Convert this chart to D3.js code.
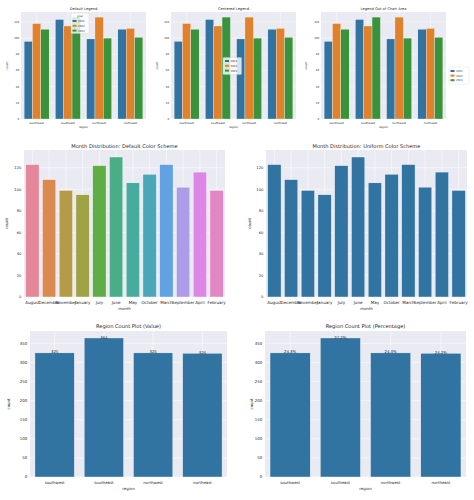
<!DOCTYPE html>
<html><head><meta charset="utf-8">
<script src="https://cdn.jsdelivr.net/npm/d3@7"></script>
<style>body{margin:0;background:#fff}svg{display:block}text{font-family:"DejaVu Sans",sans-serif;fill:#262626}</style>
</head><body>
<script>
// ---- data ----
const regions = ["southwest", "southeast", "northwest", "northeast"];
const years = ["2021", "2022", "2023"];
const counts2021 = [96, 123, 99, 111];
const counts2022 = [118, 115, 126, 112];
const counts2023 = [111, 126, 100, 101];
const months = ["August", "December", "November", "January", "July", "June", "May", "October", "March", "September", "April", "February"];
const monthCounts = [123, 109, 99, 95, 122, 130, 106, 114, 123, 102, 116, 99];
const regionCounts = [325, 364, 325, 324];
const regionPercentLabels = ["24.3%", "27.2%", "24.3%", "24.2%"];
const yearTicks = [0, 20, 40, 60, 80, 100, 120];
const monthTicks = [0, 20, 40, 60, 80, 100, 120];
const regionTicks = [0, 50, 100, 150, 200, 250, 300, 350];
const yearColors = ["#3274a1", "#e1812c", "#3a923a"];
const monthColors = ["#e5879a", "#da8a4e", "#b59b45", "#9ea345", "#5fae45", "#49ad88", "#48aba0", "#49a8b8", "#62a1e2", "#ad9ce8", "#dc87e6", "#e287c3"];
const uniformColor = "#3274a1";

const svg = d3.select("body").append("svg").attr("width", 474).attr("height", 500);

function panel(o) {
  const g = svg.append("g");
  const x = d3.scaleBand().domain(o.cats).range([o.x0, o.x1]).paddingInner(0.2).paddingOuter(0.1);
  const y = d3.scaleLinear().domain([0, o.ymax]).range([o.y1, o.y0]);
  g.append("rect").attr("x", o.x0).attr("y", o.y0).attr("width", o.x1 - o.x0).attr("height", o.y1 - o.y0).attr("fill", "#eaeaf2");
  g.selectAll(".hg").data(o.ticks).enter().append("line")
    .attr("x1", o.x0).attr("x2", o.x1).attr("y1", d => y(d)).attr("y2", d => y(d))
    .attr("stroke", "#fff").attr("stroke-width", o.gw);
  g.selectAll(".vg").data(o.cats).enter().append("line")
    .attr("x1", d => x(d) + x.bandwidth() / 2).attr("x2", d => x(d) + x.bandwidth() / 2)
    .attr("y1", o.y0).attr("y2", o.y1).attr("stroke", "#fff").attr("stroke-width", o.gw);
  if (o.series) {
    const xs = d3.scaleBand().domain(o.series.map((s, i) => i)).range([0, x.bandwidth()]);
    o.series.forEach((s, si) => {
      g.selectAll(".b" + si).data(o.cats).enter().append("rect")
        .attr("x", d => x(d) + xs(si)).attr("width", xs.bandwidth())
        .attr("y", (d, i) => y(s.values[i])).attr("height", (d, i) => y(0) - y(s.values[i]))
        .attr("fill", s.color).attr("stroke", "#fff").attr("stroke-width", 0.3);
    });
  } else {
    g.selectAll(".b").data(o.cats).enter().append("rect")
      .attr("x", d => x(d)).attr("width", x.bandwidth())
      .attr("y", (d, i) => y(o.values[i])).attr("height", (d, i) => y(0) - y(o.values[i]))
      .attr("fill", (d, i) => o.colors[i]).attr("stroke", "#fff").attr("stroke-width", 0.4);
    if (o.barLabels) {
      g.selectAll(".bl").data(o.cats).enter().append("text")
        .attr("x", d => x(d) + x.bandwidth() / 2).attr("y", (d, i) => y(o.values[i]) + 0.6)
        .attr("text-anchor", "middle").attr("font-size", o.tf).text((d, i) => o.barLabels[i]);
    }
  }
  g.selectAll(".yt").data(o.ticks).enter().append("text")
    .attr("x", o.x0 - o.tf * 0.7).attr("y", d => y(d)).attr("dy", "0.35em")
    .attr("text-anchor", "end").attr("font-size", o.tf).text(d => d);
  g.selectAll(".xt").data(o.cats).enter().append("text")
    .attr("x", d => x(d) + x.bandwidth() / 2).attr("y", o.y1 + o.xtdy).attr("dy", "0.35em")
    .attr("text-anchor", "middle").attr("font-size", o.xtf || o.tf).text(d => d);
  g.append("text").attr("x", (o.x0 + o.x1) / 2).attr("y", o.y1 + o.xldy).attr("dy", "0.35em")
    .attr("text-anchor", "middle").attr("font-size", o.lf).text(o.xlabel);
  g.append("text").attr("transform", `translate(${o.ylx},${(o.y0 + o.y1) / 2}) rotate(-90)`).attr("dy", "0.35em")
    .attr("text-anchor", "middle").attr("font-size", o.lf).text("count");
  g.append("text").attr("x", (o.x0 + o.x1) / 2).attr("y", o.y0 - o.tdy).attr("dy", "0.35em")
    .attr("text-anchor", "middle").attr("font-size", o.ttf).text(o.title);
  return g;
}

function legend(bx, by, bw, bh, title, ex, ey0, estep) {
  const g = svg.append("g");
  g.append("rect").attr("x", bx).attr("y", by).attr("width", bw).attr("height", bh).attr("rx", 0.8)
    .attr("fill", "#fff").attr("fill-opacity", 0.8).attr("stroke", "#cccccc").attr("stroke-width", 0.3);
  if (title) g.append("text").attr("x", bx + bw / 2).attr("y", by + 3).attr("dy", "0.35em")
    .attr("text-anchor", "middle").attr("font-size", 2.7).text(title);
  years.forEach((yr, i) => {
    g.append("rect").attr("x", ex).attr("y", ey0 + i * estep - 1).attr("width", 4).attr("height", 2)
      .attr("fill", yearColors[i]);
    g.append("text").attr("x", ex + 5.5).attr("y", ey0 + i * estep).attr("dy", "0.35em")
      .attr("font-size", 2.6).text(yr);
  });
}

const yearSeries = [
  { values: counts2021, color: yearColors[0] },
  { values: counts2022, color: yearColors[1] },
  { values: counts2023, color: yearColors[2] }
];
const topTitles = ["Default Legend", "Centered Legend", "Legend Out of Chart Area"];
const topX = [[21, 146, 7], [171, 296, 157], [321, 446, 306]];
topX.forEach((p, i) => {
  panel({ x0: p[0], x1: p[1], y0: 12, y1: 119, ymax: 132.3, ticks: yearTicks, cats: regions,
    series: yearSeries, title: topTitles[i], xlabel: "region", ylx: p[2],
    tf: 2.6, xtf: 2.8, lf: 2.9, ttf: 3.6, tdy: 3, xtdy: 4, xldy: 8.2, gw: 0.4 });
});
legend(71, 13, 18, 20.5, "year", 72.5, 21, 4.8);
legend(223, 57.5, 18.5, 17, null, 225, 61, 4.8);
legend(449, 67, 20, 17, null, 450.5, 71, 4.6);

panel({ x0: 24, x1: 225, y0: 150, y1: 297, ymax: 136.5, ticks: monthTicks, cats: months,
  values: monthCounts, colors: monthColors, title: "Month Distribution: Default Color Scheme",
  xlabel: "month", ylx: 7, tf: 3.7, xtf: 4.1, lf: 3.9, ttf: 5.1, tdy: 4, xtdy: 5.3, xldy: 11.3, gw: 0.5 });
panel({ x0: 266, x1: 467, y0: 150, y1: 297, ymax: 136.5, ticks: monthTicks, cats: months,
  values: monthCounts, colors: months.map(() => uniformColor), title: "Month Distribution: Uniform Color Scheme",
  xlabel: "month", ylx: 250, tf: 3.7, xtf: 4.1, lf: 3.9, ttf: 5.1, tdy: 4, xtdy: 5.3, xldy: 11.3, gw: 0.5 });

panel({ x0: 30, x1: 227, y0: 331, y1: 477, ymax: 382.2, ticks: regionTicks, cats: regions,
  values: regionCounts, colors: regions.map(() => uniformColor), barLabels: regionCounts.map(String),
  title: "Region Count Plot (Value)", xlabel: "region", ylx: 9, tf: 3.9, lf: 3.9, ttf: 5.1, tdy: 5, xtdy: 6, xldy: 12, gw: 0.5 });
panel({ x0: 265, x1: 466, y0: 331, y1: 477, ymax: 382.2, ticks: regionTicks, cats: regions,
  values: regionCounts, colors: regions.map(() => uniformColor), barLabels: regionPercentLabels,
  title: "Region Count Plot (Percentage)", xlabel: "region", ylx: 252, tf: 3.9, lf: 3.9, ttf: 5.1, tdy: 5, xtdy: 6, xldy: 12, gw: 0.5 });
</script>
</body></html>
